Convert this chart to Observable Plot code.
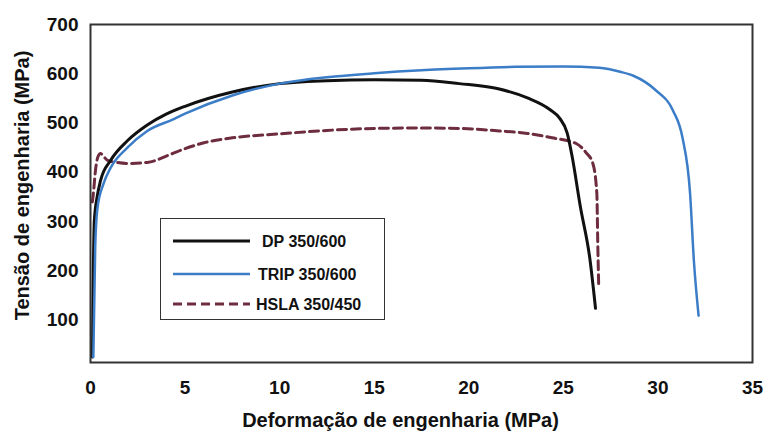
<!DOCTYPE html>
<html>
<head>
<meta charset="utf-8">
<script src="https://cdn.jsdelivr.net/npm/d3@7"></script>
<script src="https://cdn.jsdelivr.net/npm/@observablehq/plot@0.6"></script>
<style>
  html, body { margin: 0; padding: 0; background: #fff; }
  #wrap { position: relative; width: 765px; height: 435px; }
  #legend { position: absolute; left: 160px; top: 218px; width: 223px; height: 100px;
            border: 1.5px solid #333; background: #fff; font-family: "Liberation Sans", Arial, sans-serif;
            font-weight: bold; font-size: 16px; color: #111; }
</style>
</head>
<body>
<div id="wrap"></div>
<script>
// ---- data ----
const seriesNames = ["DP 350/600", "TRIP 350/600", "HSLA 350/450"];
const seriesColors = ["#111111", "#3c7dc8", "#6e2c3f"];

const dpX = [0.1, 0.15, 0.2, 0.35, 0.53, 1.06, 1.95, 3.0, 4.0, 5, 7.5, 10, 12.5, 15, 17.5, 19.5, 21.5, 23.1, 24.3, 24.8, 25.2, 25.45, 25.9, 26.4, 26.7];
const dpY = [25, 200, 300, 350, 383, 424, 464, 496, 518, 534, 563, 580, 586, 588, 587, 580, 570, 551, 527, 510, 480, 435, 330, 225, 124];

const tripX = [0.15, 0.25, 0.37, 0.69, 1.06, 1.95, 3.0, 4.4, 5, 7.5, 10, 12.5, 15, 17.5, 20, 22.5, 25, 26.9, 28, 28.7, 29.9, 30.8, 31.3, 31.7, 31.9, 32.15];
const tripY = [25, 250, 328, 377, 409, 450, 484, 508, 519, 556, 580, 593, 601, 607, 611, 614, 615, 612, 604, 596, 566, 525, 470, 357, 221, 109];

const hslaX = [0.1, 0.16, 0.26, 0.4, 0.53, 0.7, 0.9, 1.4, 1.95, 3.0, 4.2, 5, 6, 7.5, 10, 12.5, 15, 17.5, 19.5, 21.6, 23.1, 24.4, 25.7, 26.2, 26.56, 26.77, 26.82, 26.87];
const hslaY = [340, 360, 403, 432, 438, 432, 424, 420, 418, 420, 436, 448, 460, 470, 478, 485, 489, 490, 489, 484, 479, 470, 458, 440, 418, 357, 255, 166];

const xTicks = [0, 5, 10, 15, 20, 25, 30, 35];
const yTicks = [100, 200, 300, 400, 500, 600, 700];
const xTitle = "Deformação de engenharia (MPa)";
const yTitle = "Tensão de engenharia (MPa)";

const toRows = (xs, ys) => xs.map((x, i) => ({x, y: ys[i]}));
const dp = toRows(dpX, dpY), trip = toRows(tripX, tripY), hsla = toRows(hslaX, hslaY);

const font = "Liberation Sans, Arial, sans-serif";

const chart = Plot.plot({
  width: 765,
  height: 435,
  marginLeft: 90,
  marginRight: 13,
  marginTop: 24,
  marginBottom: 73,
  style: {fontFamily: font, background: "#fff", color: "#111"},
  x: {domain: [0, 35]},
  y: {domain: [14, 700]},
  marks: [
    Plot.line(hsla, {x: "x", y: "y", stroke: seriesColors[2], strokeWidth: 3, strokeDasharray: "9,5", curve: "monotone-x"}),
    Plot.line(dp, {x: "x", y: "y", stroke: seriesColors[0], strokeWidth: 3, curve: "monotone-x"}),
    Plot.line(trip, {x: "x", y: "y", stroke: seriesColors[1], strokeWidth: 2.5, curve: "monotone-x"}),
    Plot.frame({stroke: "#333", strokeWidth: 2}),
    Plot.axisX({ticks: xTicks, tickSize: 0, tickPadding: 18, fontSize: 19, fontWeight: "bold", label: null}),
    Plot.axisY({ticks: yTicks, tickSize: 0, tickPadding: 12, fontSize: 19, fontWeight: "bold", label: null}),
    Plot.text([xTitle], {frameAnchor: "bottom", dx: -21, dy: 50, lineAnchor: "top", textAnchor: "middle", text: d => d, fontSize: 20, fontWeight: "bold", fill: "#111"}),
    Plot.text([yTitle], {frameAnchor: "left", dx: -68, dy: -8, rotate: -90, textAnchor: "middle", lineAnchor: "middle", text: d => d, fontSize: 20, fontWeight: "bold", fill: "#111"})
  ]
});

const wrap = document.getElementById("wrap");
wrap.appendChild(chart);

// legend (HTML overlay)
const legend = document.createElement("div");
legend.id = "legend";
const rowsY = [22, 55, 85];
let html = '<svg width="223" height="100" style="position:absolute;left:0;top:0">';
seriesNames.forEach((name, i) => {
  const dash = i === 2 ? ' stroke-dasharray="9,5"' : '';
  const w = i === 1 ? 2.5 : 3;
  html += `<line x1="12" x2="89" y1="${rowsY[i]}" y2="${rowsY[i]}" stroke="${seriesColors[i]}" stroke-width="${w}"${dash}/>`;
  html += `<text x="${[101, 97, 95][i]}" y="${rowsY[i] + 6}" font-family="${font}" font-weight="bold" font-size="16" fill="#111">${name}</text>`;
});
html += '</svg>';
legend.innerHTML = html;
wrap.appendChild(legend);
</script>
</body>
</html>
